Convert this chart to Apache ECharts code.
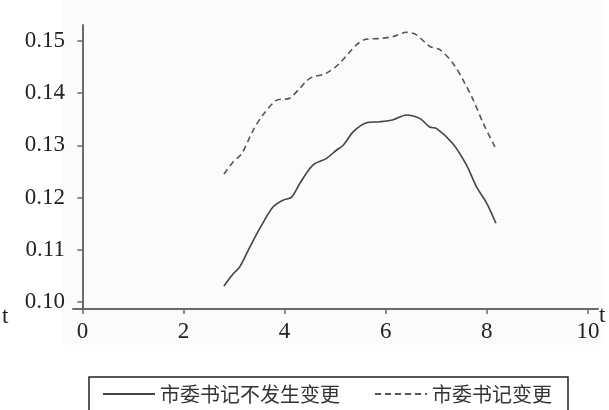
<!DOCTYPE html>
<html>
<head>
<meta charset="utf-8">
<script src="https://cdn.jsdelivr.net/npm/echarts@6/dist/echarts.min.js"></script>
<style>
html,body{margin:0;padding:0;background:#fff;}
#chart{width:609px;height:410px;}
</style>
</head>
<body>
<div id="chart"></div>
<script>
// Data
var seriesNames = ['市委书记不发生变更', '市委书记变更'];
var xTicks = [0, 2, 4, 6, 8, 10];
var yTicks = [0.10, 0.11, 0.12, 0.13, 0.14, 0.15];

var solidX = [2.80, 2.98, 3.11, 3.31, 3.51, 3.77, 3.97, 4.14, 4.30, 4.56, 4.83, 5.03, 5.16, 5.36, 5.62, 5.88, 6.15, 6.41, 6.68, 6.87, 7.01, 7.33, 7.60, 7.80, 8.00, 8.18];
var solidY = [0.1031, 0.1054, 0.1067, 0.1105, 0.1141, 0.1182, 0.1195, 0.1201, 0.1227, 0.1262, 0.1275, 0.1291, 0.1300, 0.1326, 0.1343, 0.1345, 0.1349, 0.1358, 0.1351, 0.1335, 0.1332, 0.1303, 0.1262, 0.1220, 0.1189, 0.1151];

var dashX = [2.80, 2.98, 3.15, 3.38, 3.57, 3.84, 4.10, 4.30, 4.50, 4.83, 5.09, 5.42, 5.62, 5.88, 6.15, 6.41, 6.61, 6.87, 7.07, 7.33, 7.53, 7.73, 7.93, 8.16];
var dashY = [0.1245, 0.1268, 0.1284, 0.1329, 0.1358, 0.1386, 0.1390, 0.1409, 0.1428, 0.1438, 0.1457, 0.1492, 0.1503, 0.1504, 0.1508, 0.1516, 0.1511, 0.1489, 0.1483, 0.1457, 0.1425, 0.1387, 0.1342, 0.1297];

function pairs(xs, ys) { return xs.map(function (x, i) { return [x, ys[i]]; }); }

var serif = 'Liberation Serif';
var axisColor = '#6a6a6a';

var chart = echarts.init(document.getElementById('chart'), null, { renderer: 'canvas' });
chart.setOption({
  animation: false,
  backgroundColor: '#ffffff',
  graphic: [
    { type: 'rect', z: -10, shape: { x: 63, y: 0, width: 541, height: 345 }, style: { fill: '#fbfbfb' } },
    { type: 'text', left: 2, top: 305, style: { text: 't', font: '23px "Liberation Serif"', fill: '#222' } },
    { type: 'text', left: 599, top: 304, style: { text: 't', font: '23px "Liberation Serif"', fill: '#222' } }
  ],
  grid: { left: 73, right: 11, top: 25, bottom: 101, containLabel: false },
  legend: {
    left: 89, top: 377,
    padding: [7, 16, 30, 13],
    itemGap: 34,
    itemWidth: 52, itemHeight: 14,
    borderColor: '#222', borderWidth: 1.5,
    itemStyle: { opacity: 0 },
    textStyle: { fontFamily: 'Noto Sans CJK SC', fontSize: 20, color: '#333', padding: [0, 0, 0, 0] },
    data: seriesNames
  },
  xAxis: {
    type: 'value', min: -0.186, max: 10.2,
    splitLine: { show: false },
    axisLine: { show: true, lineStyle: { color: axisColor, width: 2 } },
    axisTick: { show: true, length: 5, customValues: xTicks, lineStyle: { color: axisColor, width: 1.5 } },
    axisLabel: { customValues: xTicks, fontFamily: serif, fontSize: 23, color: '#222', margin: 11 }
  },
  yAxis: {
    type: 'value', min: 0.0987, max: 0.153,
    splitLine: { show: false },
    axisLine: { show: true, lineStyle: { color: axisColor, width: 2 } },
    axisTick: { show: true, length: 5, customValues: yTicks, lineStyle: { color: axisColor, width: 1.5 } },
    axisLabel: { customValues: yTicks, fontFamily: serif, fontSize: 23, color: '#222', margin: 8,
      formatter: function (v) { return v.toFixed(2); } }
  },
  series: [
    { name: seriesNames[0], type: 'line', data: pairs(solidX, solidY), symbol: 'none', smooth: 0.3,
      lineStyle: { color: '#444', width: 1.6, type: 'solid' }, itemStyle: { color: '#444' } },
    { name: seriesNames[1], type: 'line', data: pairs(dashX, dashY), symbol: 'none', smooth: 0.3,
      lineStyle: { color: '#555', width: 1.6, type: [6, 4] }, itemStyle: { color: '#555' } }
  ]
});
</script>
</body>
</html>
